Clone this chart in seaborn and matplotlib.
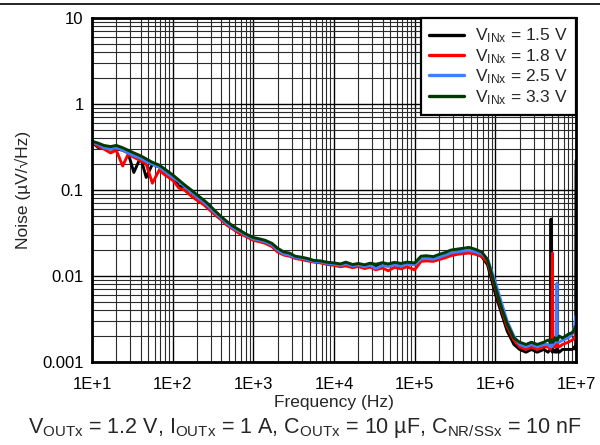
import numpy as np
import pandas as pd
import matplotlib
matplotlib.use("Agg")
import matplotlib.pyplot as plt
import matplotlib.ticker as mticker
from matplotlib.lines import Line2D
import seaborn as sns

# ---------------- data ----------------
FREQ = [10, 12, 14, 17, 20, 24, 28, 33, 40, 47, 56, 68, 80,
        100, 120, 140, 170, 200, 240, 280, 330, 400, 470, 560, 680, 800,
        1e3, 1.2e3, 1.4e3, 1.7e3, 2e3, 2.4e3, 2.8e3, 3.3e3, 4e3, 4.7e3, 5.6e3, 6.8e3, 8e3,
        1e4, 1.2e4, 1.4e4, 1.7e4, 2e4, 2.4e4, 2.8e4, 3.3e4, 4e4, 4.7e4, 5.6e4, 6.8e4, 8e4,
        1e5, 1.2e5, 1.4e5, 1.7e5, 2e5, 2.4e5, 2.8e5, 3.3e5, 4e5, 4.7e5, 5.6e5, 6.8e5, 8e5,
        1e6, 1.2e6, 1.4e6, 1.7e6, 2e6, 2.4e6, 2.8e6, 3.3e6, 4e6, 4.5e6, 4.8e6, 4.9e6, 5.0e6,
        5.1e6, 5.2e6, 5.5e6, 5.7e6, 5.8e6, 5.9e6, 6.2e6, 6.8e6, 8e6, 9e6, 9.6e6, 9.9e6, 1e7]

NOISE_1V5 = [0.36, 0.31, 0.32, 0.30, 0.30, 0.29, 0.27, 0.16, 0.24, 0.14, 0.20, 0.185, 0.165,
             0.145, 0.11, 0.11, 0.095, 0.083, 0.074, 0.065, 0.056, 0.047, 0.041, 0.036, 0.033, 0.030,
             0.027, 0.026, 0.025, 0.023, 0.020, 0.018, 0.0175, 0.0165, 0.016, 0.0155, 0.0148, 0.0145, 0.014,
             0.0138, 0.0134, 0.014, 0.0132, 0.0136, 0.013, 0.0136, 0.0131, 0.0137, 0.0132, 0.0138, 0.0134, 0.014,
             0.0138, 0.0155, 0.0158, 0.0155, 0.0162, 0.017, 0.018, 0.0185, 0.019, 0.019, 0.0183, 0.0168, 0.0135,
             0.0062, 0.0036, 0.0023, 0.0016, 0.0014, 0.0013, 0.0014, 0.0013, 0.0014, 0.0013, 0.0014, 0.046, 0.0014,
             0.0013, 0.0014, 0.0013, 0.0014, 0.0013, 0.0014, 0.0013, 0.0014, 0.0014, 0.0014, 0.0015, 0.0014, 0.22]

NOISE_1V8 = [0.36, 0.32, 0.30, 0.27, 0.29, 0.19, 0.26, 0.24, 0.22, 0.20, 0.12, 0.17, 0.15,
             0.13, 0.105, 0.10, 0.085, 0.076, 0.068, 0.060, 0.052, 0.045, 0.039, 0.035, 0.031, 0.029,
             0.026, 0.025, 0.024, 0.022, 0.019, 0.0175, 0.017, 0.016, 0.0155, 0.015, 0.0145, 0.0142, 0.0137,
             0.0133, 0.0128, 0.0131, 0.0125, 0.0129, 0.0122, 0.0127, 0.0118, 0.0124, 0.0115, 0.0126, 0.0121, 0.0128,
             0.0118, 0.0148, 0.015, 0.0148, 0.0155, 0.0163, 0.0172, 0.0178, 0.0182, 0.0185, 0.018, 0.017, 0.0145,
             0.0072, 0.004, 0.0026, 0.0018, 0.0015, 0.0014, 0.0015, 0.0014, 0.0015, 0.0015, 0.0014, 0.0015, 0.0015,
             0.0185, 0.0015, 0.0015, 0.0016, 0.0015, 0.0016, 0.0015, 0.0016, 0.0017, 0.0018, 0.0019, 0.0021, 0.0019]

NOISE_2V5 = [0.36, 0.34, 0.31, 0.30, 0.31, 0.29, 0.27, 0.25, 0.235, 0.215, 0.20, 0.185, 0.165,
             0.14, 0.125, 0.11, 0.095, 0.083, 0.073, 0.064, 0.055, 0.047, 0.041, 0.036, 0.033, 0.030,
             0.027, 0.026, 0.025, 0.023, 0.020, 0.018, 0.0175, 0.0165, 0.016, 0.0155, 0.0148, 0.0146, 0.0141,
             0.0138, 0.0133, 0.0139, 0.0131, 0.0135, 0.0128, 0.0134, 0.0122, 0.0133, 0.0129, 0.0135, 0.0131, 0.0137,
             0.0135, 0.0158, 0.016, 0.0157, 0.0165, 0.0175, 0.0185, 0.019, 0.0195, 0.0198, 0.0192, 0.018, 0.0158,
             0.0085, 0.0048, 0.003, 0.0020, 0.0016, 0.0015, 0.0016, 0.0015, 0.0016, 0.0016, 0.0015, 0.0016, 0.0015,
             0.0016, 0.0016, 0.0017, 0.0018, 0.0083, 0.0017, 0.0017, 0.0018, 0.0019, 0.0021, 0.0026, 0.0034, 0.0031]

NOISE_3V3 = [0.37, 0.35, 0.33, 0.32, 0.33, 0.31, 0.29, 0.27, 0.25, 0.23, 0.21, 0.195, 0.175,
             0.15, 0.13, 0.115, 0.10, 0.088, 0.077, 0.068, 0.058, 0.049, 0.043, 0.038, 0.034, 0.031,
             0.028, 0.027, 0.026, 0.024, 0.021, 0.019, 0.0185, 0.017, 0.0165, 0.016, 0.0152, 0.015, 0.0145,
             0.0142, 0.0138, 0.0145, 0.0136, 0.014, 0.0135, 0.0141, 0.0137, 0.0143, 0.0138, 0.0144, 0.014, 0.0145,
             0.0142, 0.017, 0.0172, 0.0168, 0.0178, 0.0188, 0.020, 0.0205, 0.021, 0.0215, 0.0205, 0.019, 0.0155,
             0.0075, 0.0042, 0.0028, 0.0019, 0.0017, 0.0016, 0.0017, 0.0016, 0.0017, 0.0018, 0.0017, 0.0018, 0.0017,
             0.0018, 0.0017, 0.0019, 0.0018, 0.0019, 0.0018, 0.002, 0.0019, 0.0021, 0.0022, 0.0024, 0.0026, 0.0025]

SERIES = [r"$V_{INx}$ = 1.5 V", r"$V_{INx}$ = 1.8 V", r"$V_{INx}$ = 2.5 V", r"$V_{INx}$ = 3.3 V"]
COLORS = ["#000000", "#FF0000", "#3F7FFF", "#003A00"]

X_TICKS = [1e1, 1e2, 1e3, 1e4, 1e5, 1e6, 1e7]
X_TICK_LABELS = ["1E+1", "1E+2", "1E+3", "1E+4", "1E+5", "1E+6", "1E+7"]
Y_TICKS = [0.001, 0.01, 0.1, 1, 10]
Y_TICK_LABELS = ["0.001", "0.01", "0.1", "1", "10"]

CAPTION = (r"$V_{OUTx}$ = 1.2 V, $I_{OUTx}$ = 1 A, $C_{OUTx}$ = 10 µF, "
           r"$C_{NR/SSx}$ = 10 nF")

# ---------------- build frame ----------------
frames = []
for name, vals in zip(SERIES, [NOISE_1V5, NOISE_1V8, NOISE_2V5, NOISE_3V3]):
    frames.append(pd.DataFrame({"Frequency": FREQ, "Noise": vals, "series": name}))
df = pd.concat(frames, ignore_index=True)

# ---------------- style ----------------
sns.set_theme(style="white")
plt.rcParams["font.family"] = ["Liberation Sans", "DejaVu Sans"]
plt.rcParams["mathtext.default"] = "regular"

fig = plt.figure(figsize=(6.0, 4.45), dpi=100)
ax = fig.add_axes([92 / 600, 1 - 362 / 445, (576 - 92) / 600, (362 - 18) / 445])

sns.lineplot(data=df, x="Frequency", y="Noise", hue="series", hue_order=SERIES,
             palette=dict(zip(SERIES, COLORS)), estimator=None, sort=False,
             linewidth=2.1, ax=ax, legend=True)

ax.set_xscale("log")
ax.set_yscale("log")
ax.set_xlim(1e1, 1e7)
ax.set_ylim(1e-3, 10)

ax.xaxis.set_major_locator(mticker.FixedLocator(X_TICKS))
ax.xaxis.set_minor_locator(mticker.LogLocator(base=10, subs=np.arange(2, 10), numticks=20))
ax.yaxis.set_major_locator(mticker.FixedLocator(Y_TICKS))
ax.yaxis.set_minor_locator(mticker.LogLocator(base=10, subs=np.arange(2, 10), numticks=20))
ax.set_xticklabels(X_TICK_LABELS)
ax.set_yticklabels(Y_TICK_LABELS)
ax.xaxis.set_minor_formatter(mticker.NullFormatter())
ax.yaxis.set_minor_formatter(mticker.NullFormatter())

ax.tick_params(axis="both", which="both", length=0, labelsize=12, colors="black")
ax.tick_params(axis="x", which="major", pad=11)
ax.tick_params(axis="y", which="major", pad=6)
ax.grid(True, which="major", color="#000000", linewidth=1.0)
ax.grid(True, which="minor", color="#2a2a2a", linewidth=0.8)
ax.set_axisbelow(True)

for side, sp in ax.spines.items():
    sp.set_visible(True)
    sp.set_color("black")
    sp.set_linewidth(2.0)

ax.set_xlabel("Frequency (Hz)", fontsize=12.5, labelpad=2)
ax.set_ylabel("Noise (µV/√Hz)", fontsize=12.5, labelpad=8)

leg = ax.legend(loc="upper right", borderaxespad=0.0, fontsize=12.5, frameon=True,
                fancybox=False, handlelength=2.0, handletextpad=0.6,
                labelspacing=0.1, borderpad=0.5, title=None)
leg.get_frame().set_edgecolor("black")
leg.get_frame().set_linewidth(1.6)
leg.get_frame().set_facecolor("white")
leg.get_frame().set_alpha(1.0)
for h in leg.get_lines():
    h.set_linewidth(2.4)

fig.text(305 / 600, 1 - 428 / 445, CAPTION, ha="center", va="center", fontsize=15.5)
fig.add_artist(Line2D([0, 1], [1 - 4 / 445, 1 - 4 / 445], transform=fig.transFigure,
                      color="black", linewidth=1.2))

fig.savefig("out.png", dpi=100)
